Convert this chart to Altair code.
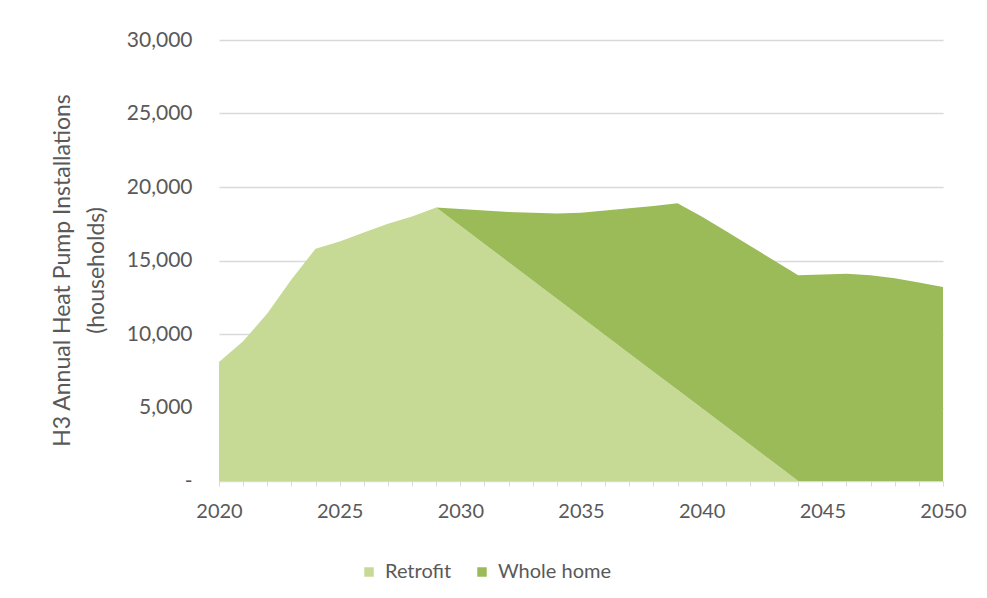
import altair as alt
import pandas as pd

years = list(range(2020, 2051))
retrofit = [8100, 9500, 11400, 13700, 15800, 16300, 16900, 17500, 18000, 18600,
            17360, 16120, 14880, 13640, 12400, 11160, 9920, 8680, 7440, 6200,
            4960, 3720, 2480, 1240, 0, 0, 0, 0, 0, 0, 0]
whole_home = [0, 0, 0, 0, 0, 0, 0, 0, 0, 0,
              1140, 2280, 3420, 4610, 5800, 7090, 8480, 9870, 11260, 12700,
              13040, 13280, 13520, 13760, 14000, 14050, 14100, 14000, 13800, 13500, 13200]
series = ["Retrofit", "Whole home"]
colors = ["#c6da96", "#9bbb59"]
y_ticks = [0, 5000, 10000, 15000, 20000, 25000, 30000]

rows = []
for i, y in enumerate(years):
    rows.append({"year": y, "series": series[0], "value": retrofit[i], "ord": 0})
    rows.append({"year": y, "series": series[1], "value": whole_home[i], "ord": 1})
df = pd.DataFrame(rows)

FONT = "Lato"
TXT = "#595959"
GRID = "#d9d9d9"

chart = alt.Chart(df).mark_area(opacity=1).encode(
    x=alt.X("year:Q",
            scale=alt.Scale(domain=[2020, 2050], nice=False, zero=False),
            axis=alt.Axis(values=years, labelExpr="datum.value % 5 == 0 ? '' + datum.value : ''",
                          title=None, grid=False, domainColor=GRID, tickColor=GRID,
                          tickSize=5, labelPadding=15, labelFontSize=20, labelColor=TXT,
                          labelFont=FONT, labelOverlap=False, labelFlush=False)),
    y=alt.Y("value:Q", stack="zero",
            scale=alt.Scale(domain=[0, 30000], nice=False),
            axis=alt.Axis(values=y_ticks,
                          labelExpr="datum.value == 0 ? '-' : format(datum.value, ',')",
                          title=["H3 Annual Heat Pump Installations", "(households)"],
                          titleFont=FONT, titleFontSize=23, titleFontWeight="normal",
                          titleColor=TXT, titleLineHeight=34, titlePadding=18,
                          titleY=230,
                          labelFont=FONT, labelFontSize=21, labelColor=TXT,
                          labelPadding=27, ticks=False, domain=False,
                          grid=True, gridColor=GRID, gridWidth=1.5)),
    color=alt.Color("series:N",
                    scale=alt.Scale(domain=series, range=colors),
                    legend=alt.Legend(title=None, orient="none", direction="horizontal",
                                      legendX=140, legendY=522, symbolType="square",
                                      symbolSize=90, symbolStrokeWidth=0, labelFont=FONT,
                                      labelFontSize=20, labelColor=TXT, columnPadding=20,
                                      labelOffset=6)),
    order=alt.Order("ord:Q"),
).properties(
    width=724, height=441,
    autosize=alt.AutoSizeParams(type="none"),
    padding={"left": 211, "top": 32, "right": 36, "bottom": 109},
    background="white",
).configure_view(stroke=None)

chart.save("out.html", embed_options={"renderer": "svg", "actions": False})
